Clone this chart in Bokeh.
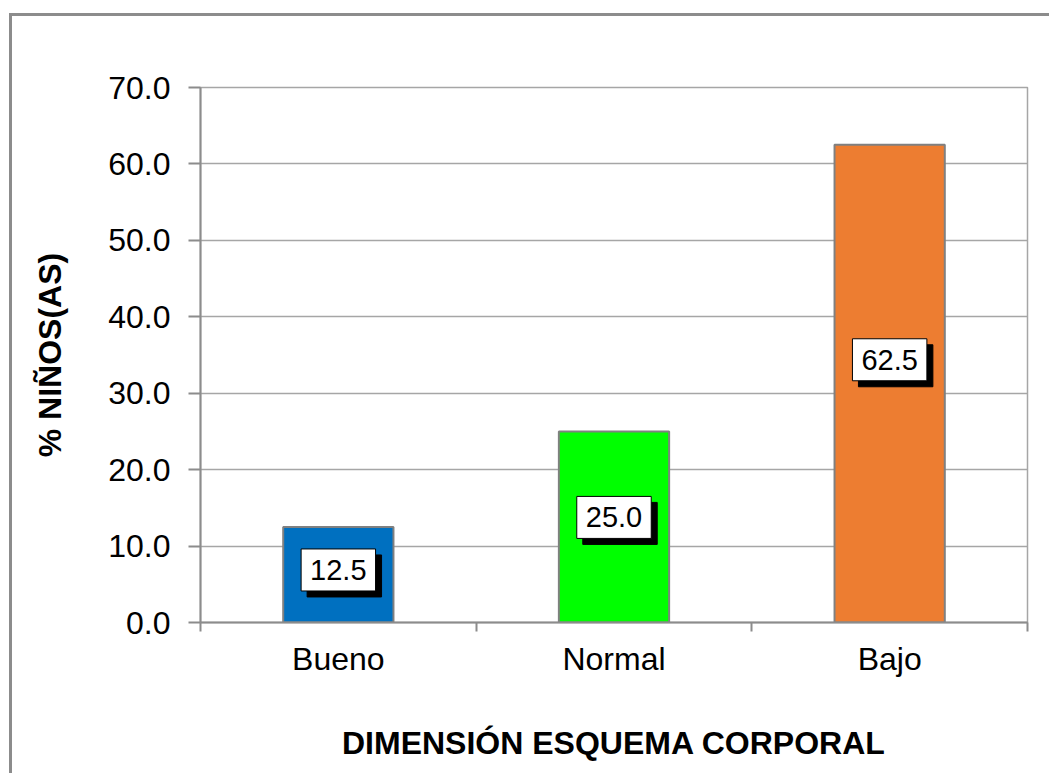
from bokeh.plotting import figure
from bokeh.models import (ColumnDataSource, FixedTicker, NumeralTickFormatter, Range1d)
from bokeh.core.properties import value
from bokeh.embed import file_html
from bokeh.resources import INLINE

# ---- data ----
categories = ["Bueno", "Normal", "Bajo"]
values = [12.5, 25.0, 62.5]
colors = ["#0070C0", "#00FF00", "#ED7D31"]
y_ticks = [0, 10, 20, 30, 40, 50, 60, 70]
x_title = "DIMENSIÓN ESQUEMA CORPORAL"
y_title = "% NIÑOS(AS)"

FONT = "Liberation Sans"
GRAY = "#8c8c8c"

xs = [i + 0.5 for i in range(len(categories))]
src = ColumnDataSource(dict(
    x=xs, top=values, color=colors,
    label=[f"{v:.1f}" for v in values],
    ly=[v * 0.55 for v in values],
))

# outer chart border: left/top edges drawn by CSS, canvas shifted accordingly
ML, MT, BW = 9, 13, 3
p = figure(width=1040, height=760, output_backend="svg", toolbar_location=None,
           x_range=Range1d(0, len(categories)), y_range=Range1d(0, 70),
           min_border_left=200 - ML - BW, min_border_right=25,
           min_border_top=87 - MT - BW, min_border_bottom=154,
           margin=(MT, 0, 0, ML),
           styles={"border-left": f"{BW}px solid {GRAY}", "border-top": f"{BW}px solid {GRAY}"})

p.vbar(x="x", top="top", width=0.4, source=src, fill_color="color",
       line_color="#808080", line_width=2)

pad = dict(left=9, right=9, top=11, bottom=11)
# shadow then label box
p.text(x="x", y="ly", text="label", source=src, text_align="center",
       text_baseline="middle", x_offset=6, y_offset=6,
       text_font=value(FONT), text_font_size="29px", text_color="black",
       background_fill_color="black", border_line_color="black", padding=pad)
p.text(x="x", y="ly", text="label", source=src, text_align="center",
       text_baseline="middle",
       text_font=value(FONT), text_font_size="29px", text_color="black",
       background_fill_color="white", border_line_color="black", border_line_width=1,
       padding=pad)

# axes
p.xaxis.ticker = FixedTicker(ticks=xs, minor_ticks=list(range(len(categories) + 1)))
p.xaxis.major_label_overrides = {x: c for x, c in zip(xs, categories)}
p.xaxis.major_tick_out = 0
p.xaxis.major_tick_in = 0
p.xaxis.minor_tick_out = 9
p.xaxis.minor_tick_in = 0
p.xaxis.minor_tick_line_color = GRAY
p.xaxis.minor_tick_line_width = 2
p.xaxis.major_label_standoff = 9
p.xaxis.axis_label = x_title
p.xaxis.axis_label_standoff = 45

p.yaxis.ticker = FixedTicker(ticks=y_ticks)
p.yaxis.formatter = NumeralTickFormatter(format="0.0")
p.yaxis.major_tick_out = 12
p.yaxis.major_tick_in = 0
p.yaxis.minor_tick_line_color = None
p.yaxis.major_tick_line_color = GRAY
p.yaxis.major_tick_line_width = 2
p.yaxis.major_label_standoff = 18
p.yaxis.axis_label = y_title
p.yaxis.axis_label_standoff = 37

for ax in (p.xaxis, p.yaxis):
    ax.axis_line_color = GRAY
    ax.axis_line_width = 2
    ax.major_label_text_font = FONT
    ax.major_label_text_font_size = "32px"
    ax.major_label_text_color = "black"
    ax.axis_label_text_font = FONT
    ax.axis_label_text_font_size = "32px"
    ax.axis_label_text_font_style = "bold"
    ax.axis_label_text_color = "black"

p.xgrid.grid_line_color = None
p.ygrid.ticker = FixedTicker(ticks=y_ticks)
p.ygrid.grid_line_color = "#a6a6a6"
p.ygrid.grid_line_width = 1.5
p.outline_line_color = "#a6a6a6"
p.outline_line_width = 1.5

open("out.html", "w").write(file_html(p, INLINE))
